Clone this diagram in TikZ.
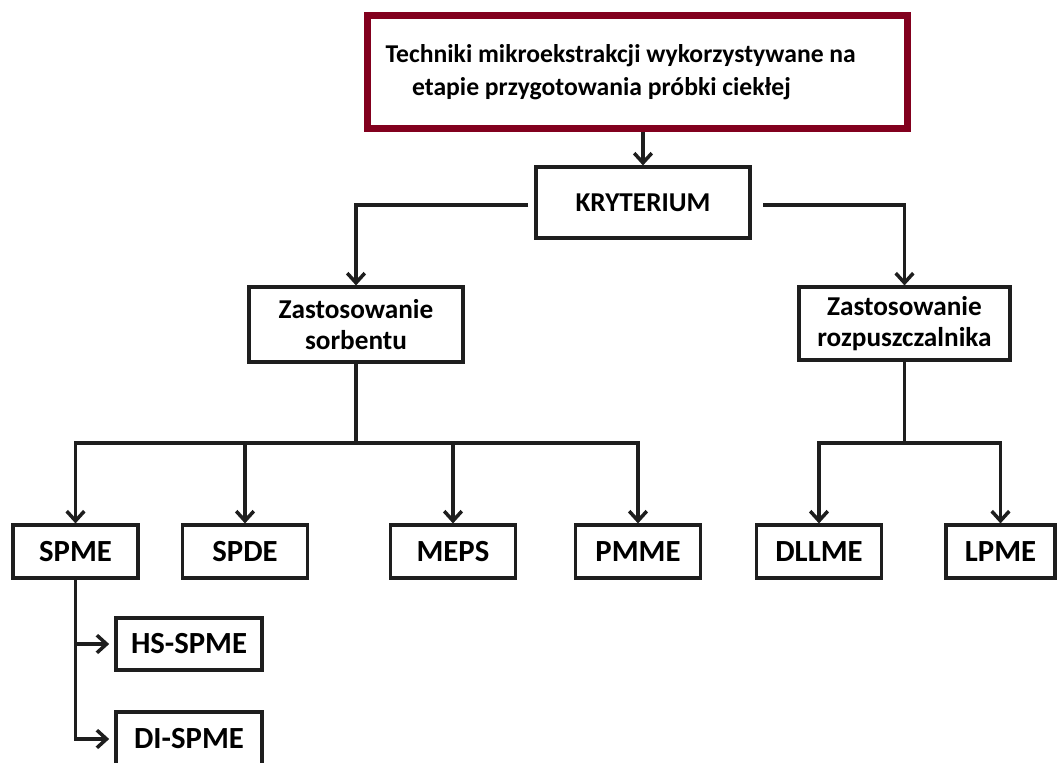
\documentclass[tikz,border=0pt]{standalone}
\usepackage{fontspec}
\setmainfont{Carlito}
\usetikzlibrary{arrows.meta}
\definecolor{ramka}{RGB}{130,0,30}
\definecolor{kreska}{RGB}{30,30,30}

\begin{document}
\begin{tikzpicture}[x=0.02cm,y=-0.02cm]
\tikzset{box/.style = {shape=rectangle,draw=kreska,line width=1.8pt,inner sep=2pt,align=center,
  font=\bfseries\fontsize{15.5}{18}\selectfont}}
\tikzset{topbox/.style = {box,draw=ramka,line width=3.8pt,minimum width=10.8cm,minimum height=2.25cm,
  font=\bfseries\fontsize{14.6}{18.5}\selectfont}}
\tikzset{midbox/.style = {box,minimum width=4.28cm,minimum height=1.46cm}}
\tikzset{small/.style = {box,minimum width=2.5cm,minimum height=1.06cm,font=\bfseries\fontsize{17.5}{20}\selectfont}}
\tikzset{sub/.style = {small,minimum width=2.92cm}}
\tikzset{line/.style = {draw=kreska,line width=2pt,line cap=rect}}
\tikzset{edge/.style = {draw=kreska,line width=2pt,-{Straight Barb[length=5.5pt,width=10pt]}}}
\useasboundingbox (0,0) rectangle (1059,762);

\node[topbox] (top) at (637.5,72) {Techniki mikroekstrakcji wykorzystywane na\hspace*{19pt}\\etapie przygotowania próbki ciekłej\hspace*{41pt}};
\node[box,minimum width=4.28cm,minimum height=1.42cm] (kryt) at (643,202.5) {KRYTERIUM};
\node[midbox,minimum height=1.5cm] (sorb) at (356,324.5) {Zastosowanie\\sorbentu};
\node[midbox,minimum width=4.22cm] (rozp) at (904.5,323.5) {Zastosowanie\\rozpuszczalnika};

\node[small] (spme) at (75.5,551.5) {SPME};
\node[small] (spde) at (245,551.5) {SPDE};
\node[small] (meps) at (453,551.5) {MEPS};
\node[small] (pmme) at (638,551.5) {PMME};
\node[small] (dllme) at (819,551.5) {DLLME};
\node[small,minimum width=2.18cm] (lpme) at (1000.5,551.5) {LPME};

\node[sub,minimum height=1.04cm] (hs) at (189,644) {HS-SPME};
\node[sub,minimum height=1.08cm] (di) at (189,739) {DI-SPME};

\coordinate (kl) at (528,205);
\coordinate (kr) at (763,205);
\coordinate (sb) at (357,443);
\coordinate (rb) at (911,443);

\draw[edge] (kryt.north |- top.south) -- (kryt.north);
\draw[edge] (kl) -| (sorb.north);
\draw[edge] (kr) -| (rozp.north);

\draw[line] (sorb.south) -- (sorb.south |- sb);
\draw[line] (spme.north |- sb) -- (pmme.north |- sb);
\draw[edge] (spme.north |- sb) -- (spme.north);
\draw[edge] (spde.north |- sb) -- (spde.north);
\draw[edge] (meps.north |- sb) -- (meps.north);
\draw[edge] (pmme.north |- sb) -- (pmme.north);

\draw[line] (rozp.south) -- (rozp.south |- rb);
\draw[line] (dllme.north |- rb) -- (lpme.north |- rb);
\draw[edge] (dllme.north |- rb) -- (dllme.north);
\draw[edge] (lpme.north |- rb) -- (lpme.north);

\draw[edge,shorten >=3pt] (spme.south) |- (hs.west);
\draw[edge,shorten >=3pt] (spme.south) |- (di.west);
\end{tikzpicture}
\end{document}
